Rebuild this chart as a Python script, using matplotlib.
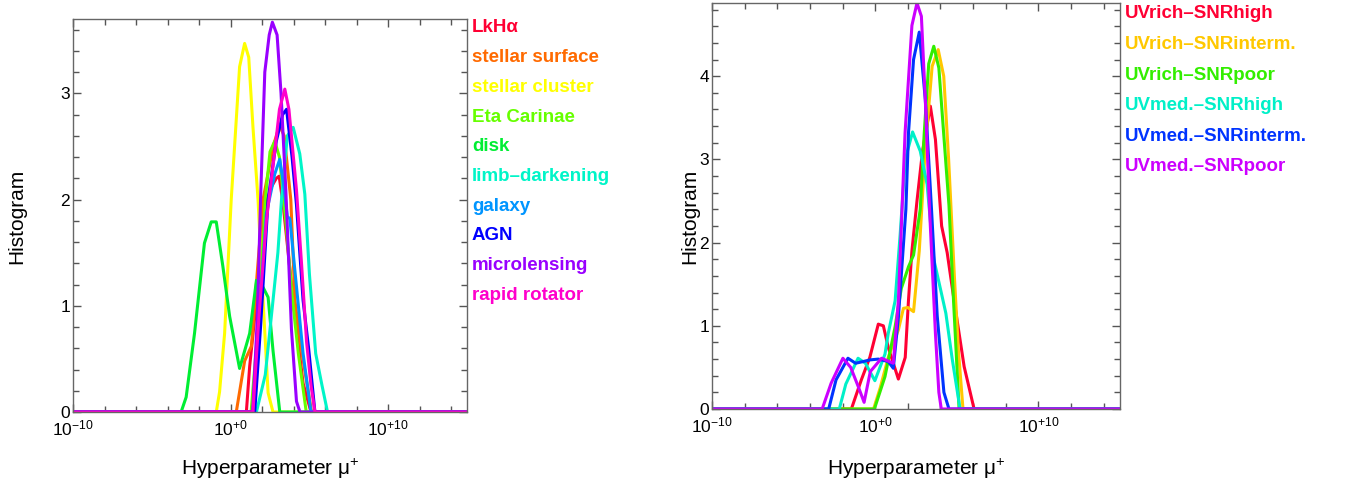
import matplotlib
matplotlib.use('Agg')
import matplotlib.pyplot as plt
from matplotlib.ticker import FixedLocator, FuncFormatter, NullFormatter
import numpy as np

plt.rcParams['font.family'] = 'Liberation Sans'
plt.rcParams['mathtext.fontset'] = 'custom'
plt.rcParams['mathtext.rm'] = 'Liberation Sans'

# ---- left panel: object classes (x = log10 mu+, y = histogram) ----
left_names = ['LkH\u03b1', 'stellar surface', 'stellar cluster', 'Eta Carinae', 'disk',
              'limb\u2013darkening', 'galaxy', 'AGN', 'microlensing', 'rapid rotator']
left_colors = ['#FF0033', '#FF6A00', '#FFFF00', '#66FF00', '#00EE33',
               '#00F5C8', '#0095FF', '#0000FF', '#9900FF', '#FF00CC']

lkha_x = [-10, 1.0, 1.21, 1.64, 2.04, 2.59, 2.9, 3.08, 3.33, 3.97, 4.6, 5.1, 15]
lkha_y = [0, 0, 0.43, 1.05, 1.87, 2.12, 2.2, 2.22, 1.96, 1.05, 0.27, 0, 0]
surface_x = [-10, 0.36, 0.89, 1.32, 2.06, 2.7, 3.1, 3.4, 3.82, 4.08, 4.5, 5.14, 15]
surface_y = [0, 0, 0.48, 0.62, 2.0, 2.5, 2.7, 2.6, 2.0, 1.05, 0.58, 0, 0]
cluster_x = [-10, -0.91, -0.7, -0.38, 0.04, 0.57, 0.89, 1.15, 1.42, 1.74, 2.06, 2.38, 2.69, 15]
cluster_y = [0, 0, 0.19, 0.74, 2.0, 3.25, 3.47, 3.34, 2.68, 2.0, 1.05, 0.18, 0, 0]
eta_x = [-10, 1.3, 1.85, 2.2, 2.5, 2.8, 3.1, 3.5, 3.9, 4.3, 4.8, 15]
eta_y = [0, 0, 1.0, 2.0, 2.45, 2.55, 2.4, 1.8, 1.1, 0.55, 0, 0]
disk_x = [-10, -3.14, -2.82, -2.29, -1.66, -1.23, -0.91, -0.49, -0.06, 0.57, 1.21, 1.64, 1.9, 2.38, 2.69, 3.12, 15]
disk_y = [0, 0, 0.14, 0.74, 1.59, 1.79, 1.79, 1.37, 0.9, 0.41, 0.74, 1.24, 1.22, 1.08, 0.58, 0, 0]
limb_x = [-10, 1.64, 2.2, 2.69, 3.0, 3.23, 3.6, 3.97, 4.39, 4.71, 5.0, 5.4, 5.8, 6.15, 15]
limb_y = [0, 0, 0.35, 1.05, 1.5, 2.0, 2.6, 2.68, 2.43, 2.05, 1.3, 0.55, 0.25, 0, 0]
galaxy_x = [-10, 1.42, 1.95, 2.27, 2.8, 3.12, 3.4, 3.6, 3.76, 4.1, 4.6, 5.1, 15]
galaxy_y = [0, 0, 1.2, 1.87, 2.24, 2.38, 2.1, 1.84, 1.82, 1.3, 0.55, 0, 0]
agn_x = [-10, 1.53, 1.9, 2.38, 2.9, 3.3, 3.55, 3.9, 4.18, 4.6, 4.95, 5.35, 15]
agn_y = [0, 0, 0.8, 2.0, 2.55, 2.8, 2.85, 2.4, 1.95, 1.05, 0.6, 0, 0]
micro_x = [-10, 1.4, 1.7, 1.9, 2.17, 2.45, 2.65, 2.95, 3.2, 3.5, 3.86, 4.18, 4.4, 15]
micro_y = [0, 0, 0.9, 2.0, 3.2, 3.55, 3.67, 3.55, 3.0, 2.1, 0.78, 0.1, 0, 0]
rotator_x = [-10, 1.42, 1.8, 2.27, 2.8, 3.1, 3.44, 3.7, 3.86, 4.18, 4.5, 4.82, 5.1, 5.35, 15]
rotator_y = [0, 0, 0.9, 1.8, 2.45, 2.85, 3.04, 2.85, 2.6, 2.09, 1.4, 0.66, 0.25, 0, 0]

left_x = [lkha_x, surface_x, cluster_x, eta_x, disk_x, limb_x, galaxy_x, agn_x, micro_x, rotator_x]
left_y = [lkha_y, surface_y, cluster_y, eta_y, disk_y, limb_y, galaxy_y, agn_y, micro_y, rotator_y]

# ---- right panel: UV coverage / SNR groups ----
right_names = ['UVrich\u2013SNRhigh', 'UVrich\u2013SNRinterm.', 'UVrich\u2013SNRpoor',
               'UVmed.\u2013SNRhigh', 'UVmed.\u2013SNRinterm.', 'UVmed.\u2013SNRpoor']
right_colors = ['#FF0033', '#FFC800', '#33EE00', '#00F0C8', '#0033FF', '#CC00FF']

rh_x = [-10, -1.46, -0.85, -0.33, 0.19, 0.5, 0.8, 1.42, 1.84, 2.04, 2.25, 2.56, 2.9, 3.38, 3.69, 4.07, 4.41, 4.83, 5.45, 6.06, 15]
rh_y = [0, 0, 0.35, 0.62, 1.02, 1.0, 0.74, 0.36, 0.62, 1.31, 1.9, 2.5, 3.1, 3.64, 3.24, 2.2, 1.88, 1.31, 0.51, 0, 0]
ri_x = [-10, -0.1, 0.3, 0.8, 1.42, 1.73, 2.0, 2.35, 2.7, 3.07, 3.49, 3.86, 4.2, 4.5, 4.85, 5.1, 5.38, 15]
ri_y = [0, 0, 0.25, 0.62, 0.95, 1.21, 1.22, 1.17, 1.9, 3.14, 4.12, 4.32, 4.0, 3.0, 1.6, 0.7, 0, 0]
rp_x = [-10, -0.05, 0.6, 1.22, 1.6, 2.04, 2.35, 2.76, 3.0, 3.28, 3.59, 3.9, 4.2, 4.52, 4.8, 5.14, 15]
rp_y = [0, 0, 0.39, 0.99, 1.45, 1.71, 1.85, 2.4, 3.3, 4.15, 4.36, 4.1, 3.3, 2.45, 1.3, 0, 0]
mh_x = [-10, -2.2, -1.8, -1.05, -0.6, -0.02, 0.6, 0.8, 1.22, 1.53, 1.84, 2.29, 2.76, 3.18, 3.59, 4.07, 4.33, 4.72, 5.2, 15]
mh_y = [0, 0, 0.3, 0.61, 0.55, 0.34, 0.66, 0.91, 1.3, 2.1, 3.0, 3.33, 3.1, 2.7, 1.8, 1.38, 1.15, 0.6, 0, 0]
mi_x = [-10, -2.85, -2.4, -1.67, -1.2, -0.74, -0.33, 0.19, 0.8, 1.11, 1.42, 1.88, 2.04, 2.35, 2.7, 3.07, 3.45, 3.8, 4.21, 4.52, 15]
mi_y = [0, 0, 0.35, 0.61, 0.55, 0.57, 0.59, 0.6, 0.57, 0.49, 1.1, 2.4, 3.32, 4.2, 4.53, 3.72, 2.4, 1.12, 0.2, 0, 0]
mp_x = [-10, -3.25, -2.7, -1.98, -1.5, -1.0, -0.68, -0.3, 0.39, 1.11, 1.42, 1.83, 2.25, 2.56, 2.83, 3.07, 3.33, 3.69, 3.9, 4.05, 15]
mp_y = [0, 0, 0.31, 0.61, 0.5, 0.25, 0.08, 0.45, 0.61, 0.55, 1.3, 3.32, 4.61, 4.88, 4.72, 3.72, 2.4, 0.91, 0.2, 0, 0]

right_x = [rh_x, ri_x, rp_x, mh_x, mi_x, mp_x]
right_y = [rh_y, ri_y, rp_y, mh_y, mi_y, mp_y]

W, H = 1355, 486
fig = plt.figure(figsize=(W / 100, H / 100), dpi=100)


def tick_fmt(v, pos):
    e = int(round(np.log10(v)))
    sign = '\u2212' if e < 0 else '+'
    return r'$\mathregular{10^{%s%d}}$' % (sign, abs(e))


def style_axes(ax, ymax, ymajor):
    ax.set_xscale('log')
    ax.set_xlim(1e-10, 1e15)
    ax.set_ylim(0, ymax)
    ax.xaxis.set_major_locator(FixedLocator([1e-10, 1e0, 1e10]))
    ax.xaxis.set_minor_locator(FixedLocator([10.0 ** k for k in range(-10, 16, 2)]))
    ax.xaxis.set_major_formatter(FuncFormatter(tick_fmt))
    ax.xaxis.set_minor_formatter(NullFormatter())
    ax.yaxis.set_major_locator(FixedLocator(ymajor))
    ax.yaxis.set_minor_locator(FixedLocator(np.arange(0, ymax, 0.2)))
    ax.yaxis.set_minor_formatter(NullFormatter())
    ax.tick_params(which='both', direction='in', top=True, right=True,
                   color='#555555', width=1.0, labelsize=12.5, labelcolor='black')
    ax.tick_params(which='major', length=6)
    ax.tick_params(which='minor', length=4)
    ax.tick_params(axis='x', which='major', pad=5)
    ax.tick_params(axis='y', which='major', pad=2)
    for s in ax.spines.values():
        s.set_color('#666666')
        s.set_linewidth(1.0)


# left panel
ax1 = fig.add_axes([73 / W, 74 / H, 394 / W, 393 / H])
for xs, ys, c in zip(left_x, left_y, left_colors):
    ax1.plot(10.0 ** np.array(xs), ys, color=c, lw=2.2, solid_joinstyle='round')
style_axes(ax1, 3.7, [0, 1, 2, 3])
for i, (name, c) in enumerate(zip(left_names, left_colors)):
    fig.text(472 / W, 1 - (28 + i * 29.7) / H, name, color=c, fontsize=13.5,
             fontweight='bold', ha='left', va='center')

# right panel
ax2 = fig.add_axes([712 / W, 77 / H, 408 / W, 406 / H])
for xs, ys, c in zip(right_x, right_y, right_colors):
    ax2.plot(10.0 ** np.array(xs), ys, color=c, lw=2.2, solid_joinstyle='round')
style_axes(ax2, 4.88, [0, 1, 2, 3, 4])
for i, (name, c) in enumerate(zip(right_names, right_colors)):
    fig.text(1125 / W, 1 - (14 + i * 30.5) / H, name, color=c, fontsize=13.5,
             fontweight='bold', ha='left', va='center')

# axis titles
for xc, yc in [(17, 216), (690, 216)]:
    fig.text(xc / W, 1 - yc / H, 'Histogram', rotation=90, fontsize=15,
             ha='center', va='center')
for xc in [270, 916]:
    fig.text(xc / W, 1 - 469 / H, 'Hyperparameter \u03bc$^{+}$', fontsize=15,
             ha='center', va='center')

fig.savefig('out.png', dpi=100)
